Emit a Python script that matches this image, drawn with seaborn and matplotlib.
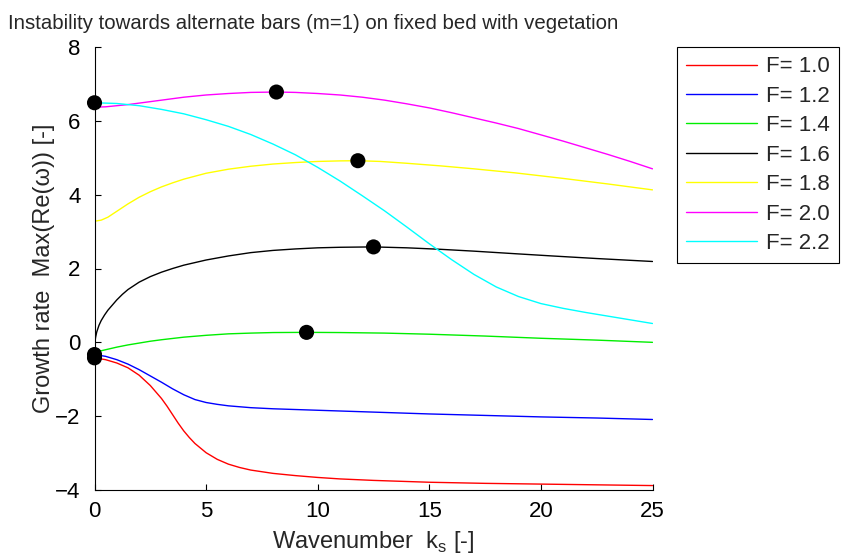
import numpy as np
import pandas as pd
import matplotlib
matplotlib.use("Agg")
import matplotlib.pyplot as plt
import seaborn as sns

# Growth rate curves (max real part of omega) versus wavenumber k_s
k_10 = [0, 0.5, 1.0, 1.5, 2.0, 2.5, 3.0, 3.25, 3.5, 3.75, 4.0, 4.25, 4.5, 5.0, 5.5,
        6.0, 6.5, 7.0, 8.0, 9.0, 10, 11, 12.5, 15, 17.5, 20, 22.5, 25]
g_10 = [-0.42, -0.47, -0.56, -0.69, -0.89, -1.17, -1.52, -1.73, -1.96, -2.19, -2.40,
        -2.58, -2.74, -2.99, -3.17, -3.30, -3.39, -3.46, -3.55, -3.61, -3.66, -3.70,
        -3.74, -3.79, -3.82, -3.84, -3.86, -3.88]

k_12 = [0, 0.5, 1.0, 1.5, 2.0, 2.5, 3.0, 3.5, 4.0, 4.5, 5.0, 5.5, 6.0, 7.0, 8.0, 9.0,
        10, 12.5, 15, 17.5, 20, 22.5, 25]
g_12 = [-0.33, -0.38, -0.47, -0.59, -0.74, -0.91, -1.08, -1.26, -1.42, -1.55, -1.63,
        -1.68, -1.72, -1.77, -1.80, -1.82, -1.84, -1.89, -1.94, -1.98, -2.02, -2.05, -2.09]

k_14 = [0, 0.5, 1, 1.5, 2, 2.5, 3, 4, 5, 6, 7, 8, 9.5, 11, 13, 15, 17.5, 20, 22.5, 25]
g_14 = [-0.27, -0.20, -0.13, -0.07, -0.02, 0.03, 0.07, 0.14, 0.19, 0.23, 0.25, 0.265,
        0.27, 0.265, 0.25, 0.22, 0.17, 0.11, 0.06, 0.0]

k_16 = [0, 0.02, 0.05, 0.1, 0.2, 0.3, 0.45, 0.6, 0.8, 1.0, 1.25, 1.5, 2.0, 2.5, 3.0,
        3.5, 4.0, 5.0, 6.0, 7.0, 8.0, 9.0, 10, 11, 12.5, 14, 15.5, 17, 18.86, 20.5,
        22.5, 25]
g_16 = [-0.10, 0.02, 0.14, 0.28, 0.46, 0.59, 0.74, 0.87, 1.01, 1.15, 1.30, 1.43, 1.63,
        1.78, 1.90, 2.00, 2.09, 2.23, 2.34, 2.43, 2.49, 2.53, 2.56, 2.575, 2.585, 2.56,
        2.52, 2.47, 2.40, 2.34, 2.27, 2.19]

k_18 = [0, 0.3, 0.6, 1.0, 1.5, 2.0, 2.5, 3.0, 3.5, 4.0, 5.0, 6.0, 7.0, 8.0, 9.0, 10,
        11, 11.8, 12.8, 14, 15.5, 17, 18.86, 21, 23, 25]
g_18 = [3.28, 3.31, 3.39, 3.55, 3.75, 3.93, 4.08, 4.21, 4.32, 4.42, 4.58, 4.69, 4.77,
        4.83, 4.87, 4.90, 4.915, 4.92, 4.90, 4.85, 4.78, 4.70, 4.59, 4.44, 4.29, 4.13]

k_20 = [0, 0.5, 1, 1.5, 2, 3, 4, 5, 6, 7, 8.15, 9, 10, 11, 12, 13, 14, 15, 16, 17, 18,
        19, 20, 21, 22, 23, 24, 25]
g_20 = [6.37, 6.38, 6.41, 6.44, 6.48, 6.56, 6.64, 6.70, 6.74, 6.77, 6.78, 6.77, 6.74,
        6.70, 6.64, 6.56, 6.46, 6.35, 6.22, 6.08, 5.94, 5.79, 5.62, 5.45, 5.27, 5.09,
        4.90, 4.70]

k_22 = [0, 1, 2, 3, 4, 5, 6, 7, 8, 9, 10, 11, 12, 13, 14, 15, 16, 17, 18, 19, 20, 21,
        22, 23, 24, 25]
g_22 = [6.49, 6.47, 6.41, 6.31, 6.19, 6.03, 5.85, 5.63, 5.37, 5.08, 4.74, 4.37, 3.97,
        3.56, 3.12, 2.67, 2.24, 1.84, 1.50, 1.24, 1.05, 0.92, 0.81, 0.71, 0.61, 0.51]

froude = ["F= 1.0", "F= 1.2", "F= 1.4", "F= 1.6", "F= 1.8", "F= 2.0", "F= 2.2"]
k_sets = [k_10, k_12, k_14, k_16, k_18, k_20, k_22]
g_sets = [g_10, g_12, g_14, g_16, g_18, g_20, g_22]
colors = ["#ff0000", "#0000ff", "#00ee00", "#000000", "#ffff00", "#ff00ff", "#00ffff"]

frames = [pd.DataFrame({"k": k, "rate": g, "F": name})
          for k, g, name in zip(k_sets, g_sets, froude)]
df = pd.concat(frames, ignore_index=True)

# maximum growth rate of every curve
peaks = df.loc[df.groupby("F", sort=False)["rate"].idxmax()]

sns.set_style("white")
plt.rcParams["font.family"] = ["Liberation Sans", "DejaVu Sans"]
plt.rcParams["mathtext.fontset"] = "custom"
plt.rcParams["mathtext.rm"] = "Liberation Sans"

W, H = 848, 559
fig = plt.figure(figsize=(W / 100, H / 100), dpi=100)
ax = fig.add_axes([94.5 / W, 69 / H, 558 / W, 443 / H])

sns.lineplot(data=df, x="k", y="rate", hue="F", palette=colors, hue_order=froude,
             estimator=None, sort=False, linewidth=1.0, ax=ax)
sns.scatterplot(data=peaks, x="k", y="rate", color="black", s=118, edgecolor="none",
                legend=False, ax=ax, zorder=5, clip_on=False)

ax.set_xlim(0, 25)
ax.set_ylim(-4, 8)
ax.set_xticks([0, 5, 10, 15, 20, 25])
ax.set_yticks([-4, -2, 0, 2, 4, 6, 8])
ax.tick_params(direction="in", length=4, width=0.8, colors="black", labelsize=16,
               pad=10, top=False, right=False, left=True, bottom=True)
ax.tick_params(axis="x", pad=8)
for side in ["top", "right"]:
    ax.spines[side].set_visible(False)
for side in ["left", "bottom"]:
    ax.spines[side].set_color("black")
    ax.spines[side].set_linewidth(0.8)

ax.set_xlabel(r"Wavenumber  k$_\mathregular{s}$ [-]", fontsize=17, labelpad=5)
ax.set_ylabel("Growth rate  Max(Re(ω)) [-]", fontsize=17, labelpad=0)

fig.text(8 / W, 1 - 29 / H, "Instability towards alternate bars (m=1) on fixed bed with vegetation",
         fontsize=14.7, ha="left", va="baseline")

handles, labels = ax.get_legend_handles_labels()
leg = ax.legend(handles, labels, loc="upper left", bbox_to_anchor=(677 / W, 1 - 47 / H),
                bbox_transform=fig.transFigure, borderaxespad=0, fontsize=16,
                frameon=True, fancybox=False, framealpha=1, edgecolor="black",
                handlelength=3.2, handletextpad=0.4, labelspacing=0.38, borderpad=0.42)
leg.get_frame().set_linewidth(0.8)

fig.savefig("out.png", dpi=100)
